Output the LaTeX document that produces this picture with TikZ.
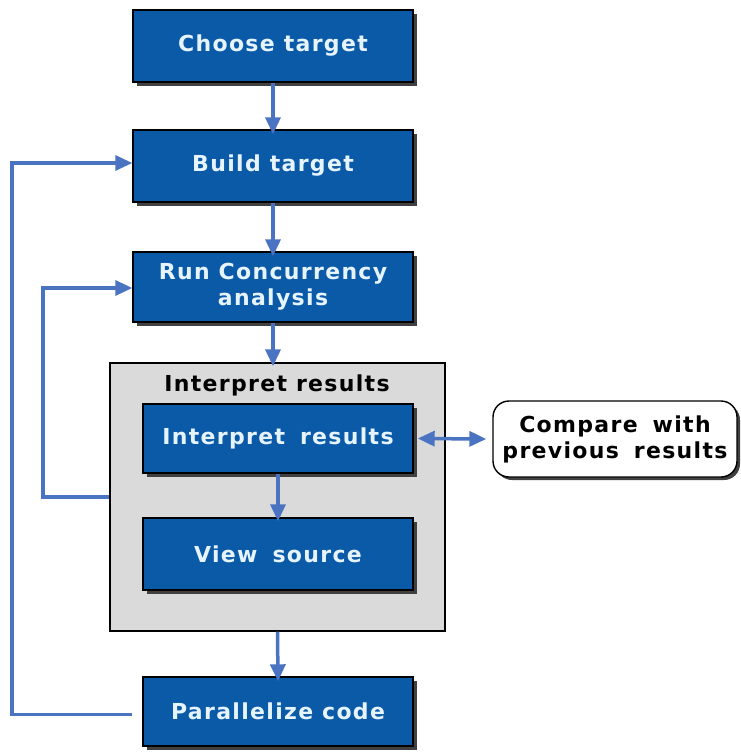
\documentclass[tikz,border=0pt]{standalone}
\usepackage{fontspec}
\setmainfont{DejaVu Sans}
\newfontfamily\labelfont{DejaVu Sans}[LetterSpace=6]
\usetikzlibrary{arrows.meta,shadows}
\definecolor{stepblue}{HTML}{0B5AA8}
\definecolor{steptext}{HTML}{E6F4FF}
\definecolor{flowline}{HTML}{4A74C2}
\definecolor{groupgray}{HTML}{DADADA}
\newcommand{\gap}{\hspace{6pt}}
\tikzset{
  x=1pt, y=-1pt,
  flowtip/.tip={Triangle[length=17pt,width=15pt]},
  labeltext/.style={font=\labelfont\bfseries\fontsize{22}{26}\selectfont, align=center},
  stepbox/.style={labeltext, draw=black, line width=1.4pt, fill=stepblue, text=steptext,
    inner sep=0pt,
    drop shadow={shadow xshift=4pt, shadow yshift=-4pt, fill=black!75, opacity=1}},
  groupbox/.style={draw=black, line width=1.4pt, fill=groupgray, inner sep=0pt},
  notebox/.style={labeltext, draw=black, line width=1.4pt, fill=white, rounded corners=16pt,
    inner sep=0pt,
    drop shadow={shadow xshift=3pt, shadow yshift=-3pt, fill=black!75, opacity=1}},
  flow/.style={draw=flowline, line width=3.5pt, -flowtip},
  loop/.style={draw=flowline, line width=3.2pt, -flowtip},
}
\begin{document}
\begin{tikzpicture}
\useasboundingbox (0,0) rectangle (740,752);
\fill[white] (0,0) rectangle (740,752);

% main steps
\node[stepbox, minimum width=280pt, minimum height=72pt] (choose) at (273,46) {Choose target};
\node[stepbox, minimum width=280pt, minimum height=72pt] (build) at (273,166) {Build target};
\node[stepbox, minimum width=280pt, minimum height=70pt] (run) at (273,287) {Run Concurrency\\analysis};

% grouped interpretation stage
\node[groupbox, minimum width=335pt, minimum height=268pt] (grp) at (277.5,497) {};
\node[labeltext] (grptitle) at (277,385) {Interpret results};
\node[stepbox, minimum width=270pt, minimum height=69pt] (interp) at (278,438.5) {Interpret \gap results};
\node[stepbox, minimum width=270pt, minimum height=72pt] (view) at (278,554) {View \gap source};

\node[stepbox, minimum width=270pt, minimum height=69pt] (par) at (278,711.5) {Parallelize code};

\node[notebox, minimum width=244pt, minimum height=76pt] (cmp) at (615,439) {Compare \gap with\\previous \gap results};

% forward flow
\draw[flow] (choose.south) -- ([yshift=-5pt]build.north);
\draw[flow] (build.south) -- ([yshift=-5pt]run.north);
\draw[flow] (run.south) -- ([yshift=-4pt]run.south |- grp.north);
\draw[flow] (interp.south) -- ([yshift=-4pt]view.north);
\draw[flow] (grp.south) -- ([yshift=-5pt]par.north);
\draw[flow, flowtip-flowtip] ([xshift=4pt]interp.east) -- ([xshift=-6pt]cmp.west);

% feedback loops
\coordinate (parout) at ([xshift=-10pt,yshift=-3pt]par.west);
\draw[loop] (parout) -- (12,714.5) -- (12,163) -- ([yshift=3pt]build.west);
\draw[loop] (grp.west) -- (43,497) -- (43,288) -- ([yshift=-1pt]run.west);
\end{tikzpicture}
\end{document}
